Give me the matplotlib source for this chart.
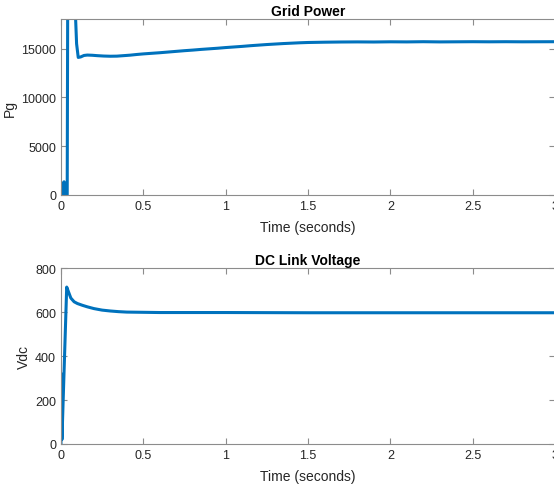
import numpy as np
import matplotlib.pyplot as plt

plt.rcParams["font.family"] = ["Liberation Sans", "DejaVu Sans"]

# grid power trace (W)
pg_t = [0.0, 0.012, 0.016, 0.019, 0.022, 0.025, 0.038, 0.042, 0.06, 0.08,
        0.095, 0.105, 0.12, 0.14, 0.16, 0.19, 0.22, 0.26, 0.3, 0.34,
        0.38, 0.42, 0.46, 0.5, 0.55, 0.6, 0.65, 0.7, 0.75, 0.8,
        0.85, 0.9, 0.95, 1.0, 1.05, 1.1, 1.15, 1.2, 1.25, 1.3,
        1.35, 1.4, 1.45, 1.5, 1.6, 1.7, 1.8, 1.9, 2.0, 2.1,
        2.2, 2.3, 2.4, 2.5, 2.6, 2.7, 2.8, 2.9, 3.0]
pg = [0, 0, 1300, 1350, 1200, 0, 0, 26000, 30000, 22000,
      15500, 14100, 14150, 14300, 14340, 14320, 14280, 14240, 14220, 14230,
      14280, 14330, 14400, 14460, 14520, 14580, 14650, 14720, 14790, 14850,
      14920, 14980, 15040, 15110, 15170, 15230, 15300, 15360, 15420, 15470,
      15520, 15560, 15600, 15630, 15660, 15680, 15690, 15680, 15700, 15690,
      15710, 15690, 15700, 15710, 15700, 15710, 15700, 15705, 15710]

# DC link voltage trace (V)
vdc_t = [0.0, 0.003, 0.006, 0.035, 0.045, 0.06, 0.08, 0.1, 0.13, 0.16,
         0.2, 0.25, 0.3, 0.35, 0.4, 0.5, 0.6, 0.8, 1.0, 1.5,
         2.0, 2.5, 3.0]
vdc = [0, 320, 20, 715, 695, 665, 648, 640, 632, 625,
       617, 610, 606, 603, 601, 600, 599, 599, 599, 598,
       598, 598, 598]

blue = "#0072BD"
grey = "#262626"

fig = plt.figure(figsize=(5.54, 4.85), dpi=100)
ax1 = fig.add_axes([0.110, 0.596, 0.892, 0.362])
ax2 = fig.add_axes([0.110, 0.0825, 0.892, 0.362])

panels = [
    (ax1, pg_t, pg, "Grid Power", "Pg", [0, 18000], [0, 5000, 10000, 15000], -0.09),
    (ax2, vdc_t, vdc, "DC Link Voltage", "Vdc", [0, 800], [0, 200, 400, 600, 800], -0.06),
]

for ax, t, y, title, ylab, ylim, yticks, lx in panels:
    ax.plot(t, y, color=blue, linewidth=2.2)
    ax.set_xlim(0, 3)
    ax.set_ylim(*ylim)
    ax.set_yticks(yticks)
    ax.set_xticks([0, 0.5, 1, 1.5, 2, 2.5, 3])
    ax.set_xticklabels(["0", "0.5", "1", "1.5", "2", "2.5", "3"])
    ax.tick_params(direction="in", top=True, right=True, length=4,
                   width=0.8, labelsize=9, colors=grey, color="#8c8c8c")
    for s in ax.spines.values():
        s.set_color("#8c8c8c")
        s.set_linewidth(0.8)
    ax.set_title(title, fontsize=10, fontweight="bold", color="black", pad=3)
    ax.set_xlabel("Time (seconds)", fontsize=10, color=grey, labelpad=6)
    ax.set_ylabel(ylab, fontsize=10, color=grey)
    ax.yaxis.set_label_coords(lx, 0.5)

fig.savefig("out.png", dpi=100)
